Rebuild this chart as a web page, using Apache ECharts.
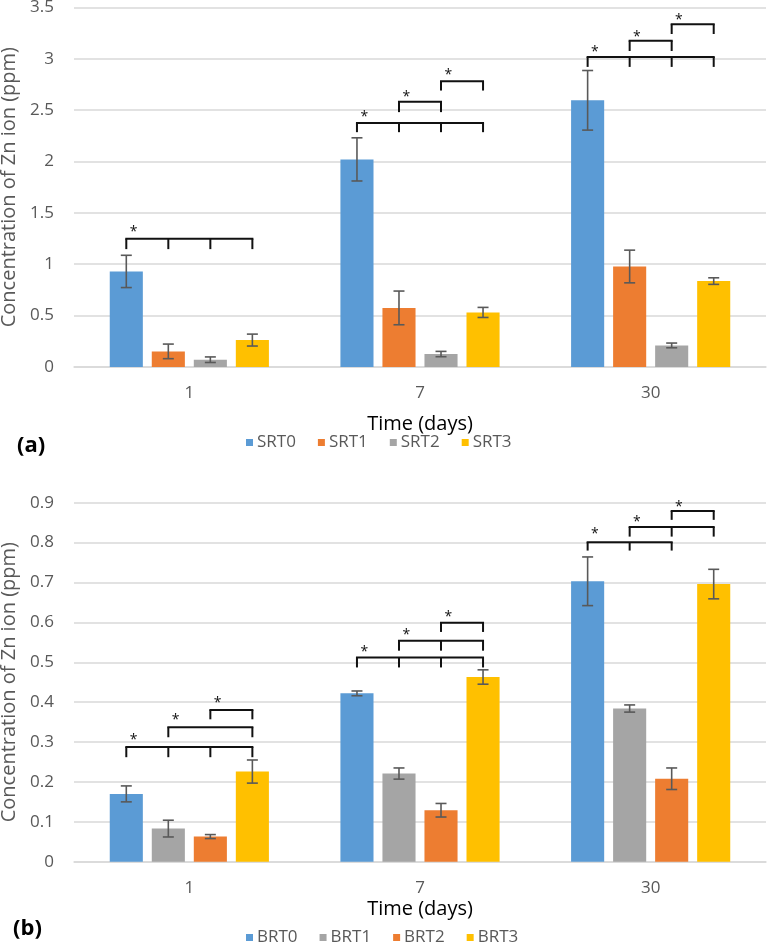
<!DOCTYPE html>
<html><head><meta charset="utf-8">
<script src="https://cdn.jsdelivr.net/npm/echarts@6/dist/echarts.min.js"></script>
<style>html,body{margin:0;padding:0;background:#fff}#c{width:767px;height:945px}</style>
</head><body><div id="c"></div>
<script>
// ---------- data ----------
const days = ['1', '7', '30'];

// chart (a)
const namesA = ['SRT0', 'SRT1', 'SRT2', 'SRT3'];
const colorsA = ['#5B9BD5', '#ED7D31', '#A5A5A5', '#FFC000'];
const SRT0 = [0.93, 2.02, 2.595];
const SRT1 = [0.152, 0.575, 0.978];
const SRT2 = [0.071, 0.126, 0.21];
const SRT3 = [0.262, 0.531, 0.836];
const SRT0err = [0.157, 0.21, 0.29];
const SRT1err = [0.071, 0.164, 0.159];
const SRT2err = [0.027, 0.026, 0.023];
const SRT3err = [0.058, 0.049, 0.032];
const yMaxA = 3.5, yStepA = 0.5;

// chart (b)
const namesB = ['BRT0', 'BRT1', 'BRT2', 'BRT3'];
const colorsB = ['#5B9BD5', '#A5A5A5', '#ED7D31', '#FFC000'];
const BRT0 = [0.170, 0.422, 0.703];
const BRT1 = [0.083, 0.221, 0.384];
const BRT2 = [0.063, 0.129, 0.208];
const BRT3 = [0.226, 0.463, 0.696];
const BRT0err = [0.020, 0.006, 0.061];
const BRT1err = [0.021, 0.014, 0.009];
const BRT2err = [0.005, 0.017, 0.027];
const BRT3err = [0.029, 0.018, 0.037];
const yMaxB = 0.9, yStepB = 0.1;

// significance brackets: category, bars with ticks, bar level, tick foot, star level
const brCatA = [0, 1, 1, 1, 2, 2, 2];
const brTicksA = [[0,1,2,3], [0,1,2,3], [1,2], [2,3], [0,1,2,3], [1,2], [2,3]];
const brLineA = [1.248, 2.375, 2.58, 2.78, 3.017, 3.175, 3.335];
const brFootA = [1.147, 2.285, 2.48, 2.69, 2.92, 3.075, 3.24];
const brStarA = [1.34, 2.46, 2.66, 2.87, 3.09, 3.24, 3.405];

const brCatB = [0, 0, 0, 1, 1, 1, 2, 2, 2];
const brTicksB = [[0,1,2,3], [1,3], [2,3], [0,1,2,3], [1,2,3], [2,3], [0,1,2], [1,2,3], [2,3]];
const brLineB = [0.2875, 0.337, 0.380, 0.512, 0.554, 0.599, 0.801, 0.839, 0.879];
const brFootB = [0.262, 0.312, 0.357, 0.487, 0.529, 0.576, 0.780, 0.815, 0.857];
const brStarB = [0.312, 0.362, 0.405, 0.533, 0.577, 0.621, 0.829, 0.859, 0.896];

// ---------- helpers ----------
const FONT = 'Open Sans';
const CAT_GAP = 0.31, BAR_GAP = 0.27, NB = 4;
function barW(band) { return band * (1 - CAT_GAP) / (NB + (NB - 1) * BAR_GAP); }
function barOffset(band, i) {
  const w = barW(band);
  const group = NB * w + (NB - 1) * BAR_GAP * w;
  return -group / 2 + w / 2 + i * w * (1 + BAR_GAP);
}

function errSeries(gridIdx, vals, errs) {
  const data = [];
  vals.forEach((arr, bi) => arr.forEach((v, ci) => data.push([ci, v, errs[bi][ci], bi])));
  return {
    type: 'custom', xAxisIndex: gridIdx, yAxisIndex: gridIdx, z: 5, silent: true,
    data: data,
    renderItem: function (params, api) {
      const ci = api.value(0), v = api.value(1), e = api.value(2), bi = api.value(3);
      const band = api.size([1, 0])[0];
      const x = api.coord([ci, v])[0] + barOffset(band, bi);
      const yt = api.coord([ci, v + e])[1], yb = api.coord([ci, v - e])[1];
      const cw = 5.5;
      const st = { stroke: '#595959', lineWidth: 1.6 };
      return { type: 'group', children: [
        { type: 'line', shape: { x1: x, y1: yt, x2: x, y2: yb }, style: st },
        { type: 'line', shape: { x1: x - cw, y1: yt, x2: x + cw, y2: yt }, style: st },
        { type: 'line', shape: { x1: x - cw, y1: yb, x2: x + cw, y2: yb }, style: st }
      ]};
    }
  };
}

function bracketSeries(gridIdx, cats, ticks, lines, feet, stars) {
  const data = cats.map((c, i) => [c, lines[i], feet[i], stars[i]]);
  return {
    type: 'custom', xAxisIndex: gridIdx, yAxisIndex: gridIdx, z: 6, silent: true,
    data: data,
    renderItem: function (params, api) {
      const ci = api.value(0);
      const tk = ticks[params.dataIndex];
      const band = api.size([1, 0])[0];
      const cx = api.coord([ci, 0])[0];
      const xs = tk.map(i => cx + barOffset(band, i));
      const yl = api.coord([ci, api.value(1)])[1];
      const yf = api.coord([ci, api.value(2)])[1];
      const ys = api.coord([ci, api.value(3)])[1];
      const st = { stroke: '#111', lineWidth: 2 };
      const ch = [{ type: 'line', shape: { x1: xs[0] - 1, y1: yl, x2: xs[xs.length - 1] + 1, y2: yl }, style: st }];
      xs.forEach(x => ch.push({ type: 'line', shape: { x1: x, y1: yl, x2: x, y2: yf }, style: st }));
      ch.push({ type: 'text', style: { text: '*', x: xs[0] + barW(band) * 0.22, y: ys + 3,
        align: 'center', verticalAlign: 'middle', fill: '#111', font: '14px ' + FONT } });
      return { type: 'group', children: ch };
    }
  };
}

function barSeries(gridIdx, names, colors, vals) {
  return names.map((n, i) => ({
    name: n, type: 'bar', xAxisIndex: gridIdx, yAxisIndex: gridIdx,
    barCategoryGap: (CAT_GAP * 100) + '%', barGap: (BAR_GAP * 100) + '%',
    itemStyle: { color: colors[i] }, data: vals[i], silent: true
  }));
}

function xAxisCfg(gridIdx, nameGap) {
  return {
    type: 'category', gridIndex: gridIdx, data: days,
    axisLine: { lineStyle: { color: '#D9D9D9', width: 1.5 } },
    axisTick: { show: false },
    axisLabel: { fontFamily: FONT, fontSize: 17, color: '#595959', margin: 18 },
    name: 'Time (days)', nameLocation: 'middle', nameGap: nameGap,
    nameTextStyle: { fontFamily: FONT, fontSize: 20, color: '#000' }
  };
}
function yAxisCfg(gridIdx, max, step) {
  return {
    type: 'value', gridIndex: gridIdx, min: 0, max: max, interval: step,
    axisLine: { show: false }, axisTick: { show: false },
    splitLine: { lineStyle: { color: '#D9D9D9', width: 1.5 } },
    axisLabel: { fontFamily: FONT, fontSize: 17, color: '#595959', margin: 20 },
    name: 'Concentration of Zn ion (ppm)', nameLocation: 'middle', nameGap: 53,
    nameTextStyle: { fontFamily: FONT, fontSize: 20, color: '#595959' }
  };
}
function legendCfg(names, top) {
  return {
    data: names, left: 241, top: top, icon: 'rect', itemWidth: 7, itemHeight: 7, itemGap: 22,
    selectedMode: false,
    textStyle: { fontFamily: FONT, fontSize: 17, color: '#595959', padding: [0, 0, 0, -1] }
  };
}

const chart = echarts.init(document.getElementById('c'), null, { renderer: 'canvas' });
chart.setOption({
  animation: false,
  backgroundColor: '#fff',
  grid: [
    { left: 74, right: 1, top: 7.3, bottom: 945 - 367, containLabel: false, outerBoundsMode: 'none' },
    { left: 74, right: 1, top: 502.7, bottom: 945 - 861.7, containLabel: false, outerBoundsMode: 'none' }
  ],
  xAxis: [xAxisCfg(0, 47), xAxisCfg(1, 38)],
  yAxis: [yAxisCfg(0, yMaxA, yStepA), yAxisCfg(1, yMaxB, yStepB)],
  legend: [legendCfg(namesA, 429), legendCfg(namesB, 924)],
  graphic: [
    { type: 'text', left: 17, top: 435, style: { text: '(a)', font: 'bold 22px ' + FONT, fill: '#000' } },
    { type: 'text', left: 13, top: 918, style: { text: '(b)', font: 'bold 22px ' + FONT, fill: '#000' } }
  ],
  series: [
    ...barSeries(0, namesA, colorsA, [SRT0, SRT1, SRT2, SRT3]),
    ...barSeries(1, namesB, colorsB, [BRT0, BRT1, BRT2, BRT3]),
    errSeries(0, [SRT0, SRT1, SRT2, SRT3], [SRT0err, SRT1err, SRT2err, SRT3err]),
    errSeries(1, [BRT0, BRT1, BRT2, BRT3], [BRT0err, BRT1err, BRT2err, BRT3err]),
    bracketSeries(0, brCatA, brTicksA, brLineA, brFootA, brStarA),
    bracketSeries(1, brCatB, brTicksB, brLineB, brFootB, brStarB)
  ]
});
</script></body></html>
